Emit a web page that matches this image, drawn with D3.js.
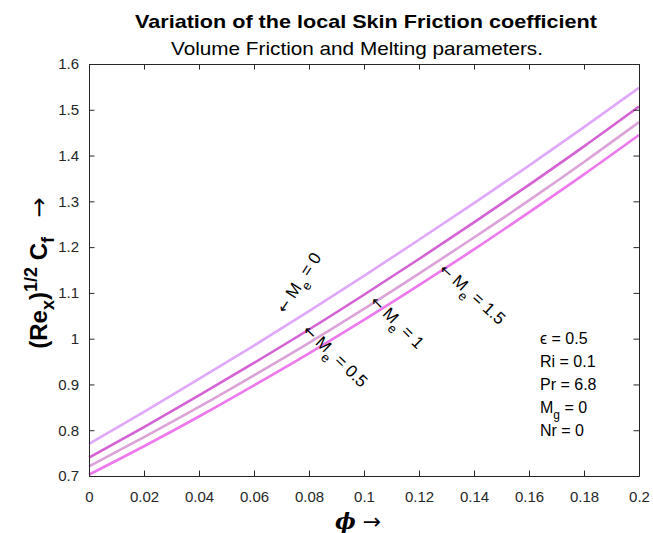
<!DOCTYPE html>
<html>
<head>
<meta charset="utf-8">
<script src="https://cdn.jsdelivr.net/npm/d3@7"></script>
<style>
  html, body { margin: 0; padding: 0; background: #fff; }
  svg text { font-family: "Liberation Sans", Arial, Helvetica, sans-serif; fill: #262626; }
</style>
</head>
<body>
<svg id="chart" width="653" height="533"></svg>
<script>
// phi values (x) and skin friction values per melting parameter
const phi = [0, 0.02, 0.04, 0.06, 0.08, 0.10, 0.12, 0.14, 0.16, 0.18, 0.20];
const cfMe0   = [0.770, 0.840, 0.912, 0.985, 1.060, 1.137, 1.216, 1.296, 1.378, 1.462, 1.548];
const cfMe05  = [0.740, 0.807, 0.876, 0.947, 1.020, 1.096, 1.174, 1.254, 1.336, 1.420, 1.507];
const cfMe1   = [0.721, 0.785, 0.851, 0.920, 0.991, 1.065, 1.142, 1.221, 1.302, 1.386, 1.473];
const cfMe15  = [0.703, 0.765, 0.830, 0.898, 0.968, 1.041, 1.117, 1.195, 1.276, 1.359, 1.445];

const xTicks = [0, 0.02, 0.04, 0.06, 0.08, 0.1, 0.12, 0.14, 0.16, 0.18, 0.2];
const yTicks = [0.7, 0.8, 0.9, 1, 1.1, 1.2, 1.3, 1.4, 1.5, 1.6];

const seriesNames = ["0", "0.5", "1", "1.5"];
const seriesValues = [cfMe0, cfMe05, cfMe1, cfMe15];
const seriesColors = ["#dfa8fb", "#d462d4", "#dba3d8", "#ee78ee"];

// label anchors in data space: [phi, value, rotation]
const labelPhi = [0.0695, 0.0790, 0.1035, 0.1285];
const labelVal = [1.061, 1.025, 1.089, 1.158];
const labelRot = [-57, 44, 45, 42];

const params = [["ϵ = 0.5"], ["Ri = 0.1"], ["Pr = 6.8"], ["M", "g", " = 0"], ["Nr = 0"]];

const svg = d3.select("#chart");
const margin = { top: 64, right: 14, bottom: 57, left: 89 };
const width = 653, height = 533;
const innerWidth = width - margin.left - margin.right;
const innerHeight = height - margin.top - margin.bottom;

const xScale = d3.scaleLinear().domain([0, 0.2]).range([0, innerWidth]);
const yScale = d3.scaleLinear().domain([0.7, 1.6]).range([innerHeight, 0]);

const g = svg.append("g")
    .attr("transform", `translate(${margin.left},${margin.top})`);

// Titles
svg.append("text")
    .attr("x", 366).attr("y", 28)
    .attr("text-anchor", "middle")
    .attr("textLength", 462).attr("lengthAdjust", "spacingAndGlyphs")
    .style("font-size", "19px").style("font-weight", "bold")
    .style("fill", "#000")
    .text("Variation of the local Skin Friction coefficient");
svg.append("text")
    .attr("x", 357).attr("y", 55)
    .attr("text-anchor", "middle")
    .attr("textLength", 372).attr("lengthAdjust", "spacingAndGlyphs")
    .style("font-size", "19px")
    .style("fill", "#000")
    .text("Volume Friction and Melting parameters.");

// Curves
const line = d3.line()
    .x((d, i) => xScale(phi[i]))
    .y((d) => yScale(d))
    .curve(d3.curveMonotoneX);

seriesValues.forEach((vals, k) => {
    g.append("path")
        .datum(vals)
        .attr("fill", "none")
        .attr("stroke", seriesColors[k])
        .attr("stroke-width", 2.6)
        .attr("d", line);
});

// Axes, ticks inside, box around
const axisColor = "#262626";
const styleAxis = (sel) => {
    sel.select(".domain").attr("stroke", axisColor);
    sel.selectAll(".tick line").attr("stroke", axisColor);
    sel.selectAll("text")
        .style("font-family", "'Liberation Sans', Arial, sans-serif")
        .style("font-size", "15px")
        .style("fill", axisColor);
};
const fmt = (d) => String(+d.toFixed(2));

g.append("g")
    .attr("transform", `translate(0,${innerHeight})`)
    .call(d3.axisBottom(xScale).tickValues(xTicks).tickFormat(fmt)
        .tickSizeInner(-5.5).tickSizeOuter(0).tickPadding(15))
    .call(styleAxis);
g.append("g")
    .call(d3.axisTop(xScale).tickValues(xTicks).tickFormat("")
        .tickSizeInner(-5.5).tickSizeOuter(0))
    .call(styleAxis);
g.append("g")
    .call(d3.axisLeft(yScale).tickValues(yTicks).tickFormat(fmt)
        .tickSizeInner(-5.5).tickSizeOuter(0).tickPadding(10))
    .call(styleAxis);
g.append("g")
    .attr("transform", `translate(${innerWidth},0)`)
    .call(d3.axisRight(yScale).tickValues(yTicks).tickFormat("")
        .tickSizeInner(-5.5).tickSizeOuter(0))
    .call(styleAxis);

// Axis titles
const yLab = svg.append("text")
    .attr("transform", `translate(47,${margin.top + innerHeight / 2 + 3}) rotate(-90)`)
    .attr("text-anchor", "middle")
    .style("font-size", "24px").style("font-weight", "bold")
    .style("fill", "#000");
yLab.append("tspan").text("(Re");
yLab.append("tspan").attr("dy", 7).style("font-size", "18px").text("x");
yLab.append("tspan").attr("dy", -7).text(")");
yLab.append("tspan").attr("dy", -10).style("font-size", "18px").text("1/2");
yLab.append("tspan").attr("dy", 10).text(" C");
yLab.append("tspan").attr("dy", 7).style("font-size", "18px").text("f");
yLab.append("tspan").attr("dy", -7).style("font-weight", "normal")
    .style("font-family", "'DejaVu Sans', sans-serif").text("\u2002 \u2192");

const xLab = svg.append("text")
    .attr("x", 358).attr("y", 529)
    .attr("text-anchor", "middle")
    .style("font-size", "22px")
    .style("fill", "#000");
xLab.append("tspan").style("font-style", "italic").style("font-weight", "bold")
    .style("font-family", "'DejaVu Serif', serif").text("\u03d5");
xLab.append("tspan").style("font-family", "'DejaVu Sans', sans-serif").text(" \u2192");

// Curve labels
seriesNames.forEach((name, k) => {
    const t = g.append("text")
        .attr("transform",
            `translate(${xScale(labelPhi[k])},${yScale(labelVal[k])}) rotate(${labelRot[k]})`)
        .attr("dy", "0.35em")
        .style("font-size", "17px")
        .style("fill", "#000");
    t.append("tspan").style("font-family", "'DejaVu Sans', sans-serif")
        .style("font-size", "15px").text("\u2190 ");
    t.append("tspan").text("M");
    t.append("tspan").attr("dy", 7).style("font-size", "13px").text("e");
    t.append("tspan").attr("dy", -7).text(" = " + name);
});

// Parameter block
params.forEach((p, i) => {
    const t = svg.append("text")
        .attr("x", 540).attr("y", 344 + i * 23)
        .style("font-size", "16px")
        .style("fill", "#000");
    t.append("tspan").text(p[0]);
    if (p.length > 1) {
        t.append("tspan").attr("dy", 6).style("font-size", "12px").text(p[1]);
        t.append("tspan").attr("dy", -6).text(p[2]);
    }
});
</script>
</body>
</html>
